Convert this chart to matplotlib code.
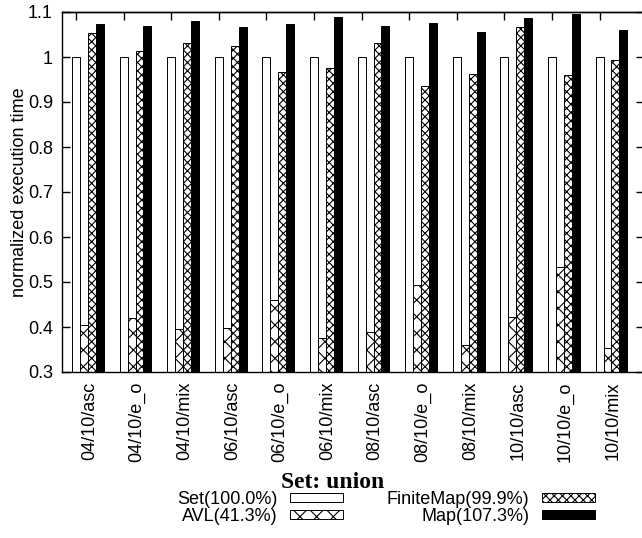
import matplotlib
matplotlib.use("Agg")
import matplotlib.pyplot as plt
import numpy as np

categories = ['04/10/asc', '04/10/e_o', '04/10/mix',
              '06/10/asc', '06/10/e_o', '06/10/mix',
              '08/10/asc', '08/10/e_o', '08/10/mix',
              '10/10/asc', '10/10/e_o', '10/10/mix']
set_vals = [1.0] * 12
avl_vals = [0.404, 0.421, 0.396, 0.398, 0.461, 0.375, 0.390, 0.493, 0.360, 0.422, 0.534, 0.354]
fm_vals = [1.053, 1.013, 1.031, 1.024, 0.967, 0.975, 1.031, 0.936, 0.963, 1.066, 0.959, 0.993]
map_vals = [1.073, 1.068, 1.081, 1.066, 1.073, 1.089, 1.068, 1.076, 1.055, 1.087, 1.096, 1.061]
series_labels = ['Set(100.0%)', 'AVL(41.3%)', 'FiniteMap(99.9%)', 'Map(107.3%)']
yticks = [0.3, 0.4, 0.5, 0.6, 0.7, 0.8, 0.9, 1.0, 1.1]
ytick_labels = ['0.3', '0.4', '0.5', '0.6', '0.7', '0.8', '0.9', '1', '1.1']

plt.rcParams['font.family'] = ['Liberation Sans', 'DejaVu Sans']
plt.rcParams['hatch.linewidth'] = 0.8
FS = 13

fig = plt.figure(figsize=(6.42, 5.38), dpi=100)
W, H = 642, 538
ax = fig.add_axes([62 / W, 1 - 372 / H, (644 - 62) / W, (372 - 12) / H])

group = 6
base = np.arange(len(categories)) * group
bw = 1.0
b1 = ax.bar(base + 0, set_vals, bw, color='white', edgecolor='black', linewidth=0.7)
b2 = ax.bar(base + 1, avl_vals, bw, color='white', edgecolor='black', linewidth=0.7, hatch='xx')
b3 = ax.bar(base + 2, fm_vals, bw, color='white', edgecolor='black', linewidth=0.7, hatch='xxxx')
b4 = ax.bar(base + 3, map_vals, bw, color='black', edgecolor='black', linewidth=0.7)

ax.set_xlim(-1.77, 71.6)
ax.set_ylim(0.3, 1.1)
ax.set_yticks(yticks)
ax.set_yticklabels(ytick_labels, fontsize=FS)
ax.set_xticks(base + 1.7)
ax.set_xticklabels(categories, rotation=90, fontsize=FS, ha='center', va='top')
ax.tick_params(axis='x', length=0, pad=7.2)
ax.tick_params(axis='y', direction='in', length=5.8, width=1.0, right=True, pad=6.5)

sec = ax.secondary_xaxis('top')
sec.set_xticks(base + 0)
sec.set_xticklabels([])
sec.tick_params(direction='in', length=5.8, width=1.0)
sec.spines['top'].set_linewidth(1.0)

for s in ax.spines.values():
    s.set_linewidth(1.0)

ax.set_ylabel('normalized execution time', fontsize=FS, labelpad=0)

fig.text(333 / W, 1 - 482.7 / H, 'Set: union', fontsize=17, fontweight='bold',
         family='Liberation Serif', ha='center', va='center')

leg = fig.legend([b1, b2, b3, b4], series_labels, ncol=2, markerfirst=False,
                 loc='center', bbox_to_anchor=(386 / W, 1 - 508 / H),
                 frameon=False, fontsize=FS, handlelength=2.94, handleheight=0.4,
                 handletextpad=0.7, columnspacing=2.44, labelspacing=0.0,
                 borderpad=0, borderaxespad=0)

fig.savefig('out.png', dpi=100)
